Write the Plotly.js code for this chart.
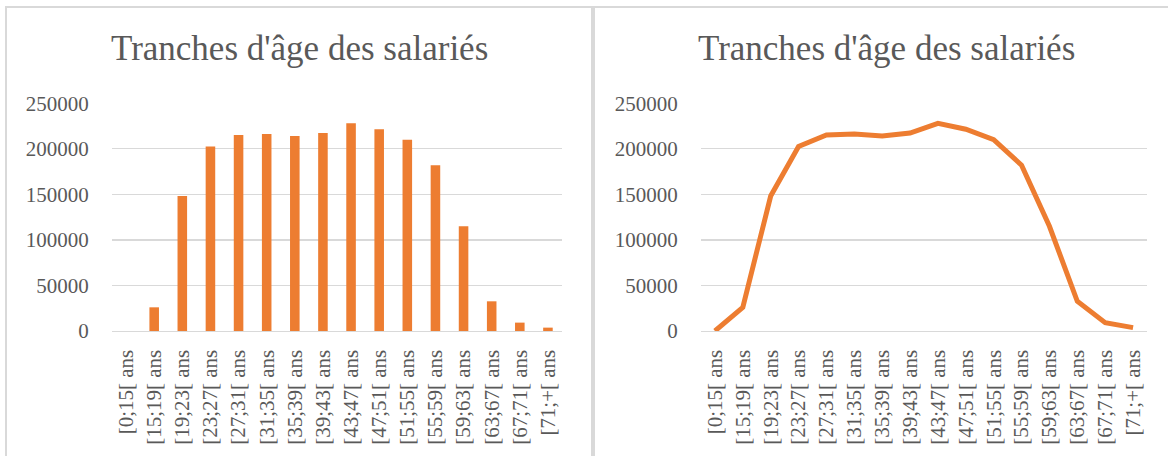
<!DOCTYPE html>
<html>
<head>
<meta charset="utf-8">
<script src="https://cdn.plot.ly/plotly-3.0.1.min.js"></script>
<style>
html,body{margin:0;padding:0;background:#fff;}
#chart{width:1168px;height:456px;}
</style>
</head>
<body>
<div id="chart"></div>
<script>
const categories = ["[0;15[ ans","[15;19[ ans","[19;23[ ans","[23;27[ ans","[27;31[ ans","[31;35[ ans","[35;39[ ans","[39;43[ ans","[43;47[ ans","[47;51[ ans","[51;55[ ans","[55;59[ ans","[59;63[ ans","[63;67[ ans","[67;71[ ans","[71;+[ ans"];
const salaries = [0, 26000, 148200, 202500, 215200, 216300, 214100, 217400, 228000, 221500, 210100, 182000, 115000, 32600, 9200, 3700];
const yTicks = [0, 50000, 100000, 150000, 200000, 250000];
const titleText = "Tranches d'âge des salariés";

const W = 1168, H = 456;
const px = v => v / W;
const py = v => 1 - v / H;
const FONT = "Liberation Serif, Times New Roman, serif";
const GRAY = "#595959";
const ORANGE = "#ED7D31";
const GRID = "#D9D9D9";

const yAxisBase = {
  range: [0, 250000],
  tickvals: yTicks,
  ticktext: yTicks.map(String),
  showgrid: true, gridcolor: GRID, gridwidth: 1.3,
  zeroline: false, showline: false,
  ticks: "outside", ticklen: 18, tickcolor: "rgba(0,0,0,0)",
  tickfont: {family: FONT, size: 21, color: GRAY},
  domain: [py(331), py(103.3)],
  fixedrange: true
};
const xAxisBase = {
  type: "category",
  range: [-0.5, categories.length - 0.5],
  showgrid: false, zeroline: false,
  showline: true, linecolor: GRID, linewidth: 1.3,
  ticks: "outside", ticklen: 9, tickcolor: "rgba(0,0,0,0)",
  tickangle: -90,
  tickfont: {family: FONT, size: 21, color: GRAY},
  fixedrange: true
};

const data = [
  {type: "bar", x: categories, y: salaries, xaxis: "x", yaxis: "y",
   marker: {color: ORANGE}, hoverinfo: "x+y"},
  {type: "scatter", mode: "lines", x: categories, y: salaries, xaxis: "x2", yaxis: "y2",
   line: {color: ORANGE, width: 5}, hoverinfo: "x+y"}
];

const layout = {
  width: W, height: H,
  margin: {l: 0, r: 0, t: 0, b: 0},
  paper_bgcolor: "#fff", plot_bgcolor: "rgba(0,0,0,0)",
  showlegend: false,
  bargap: 0.66,
  xaxis: Object.assign({}, xAxisBase, {domain: [px(112), px(562)], anchor: "y"}),
  yaxis: Object.assign({}, yAxisBase, {anchor: "x"}),
  xaxis2: Object.assign({}, xAxisBase, {domain: [px(701), px(1147)], anchor: "y2"}),
  yaxis2: Object.assign({}, yAxisBase, {anchor: "x2"}),
  annotations: [
    {text: titleText, xref: "paper", yref: "paper", x: px(299), y: py(48), xanchor: "center", yanchor: "middle",
     showarrow: false, font: {family: FONT, size: 35, color: GRAY}},
    {text: titleText, xref: "paper", yref: "paper", x: px(886), y: py(48), xanchor: "center", yanchor: "middle",
     showarrow: false, font: {family: FONT, size: 35, color: GRAY}}
  ],
  shapes: [
    {type: "rect", xref: "paper", yref: "paper", x0: px(6), x1: px(592), y0: py(470), y1: py(7),
     line: {color: GRID, width: 2}, fillcolor: "rgba(0,0,0,0)", layer: "below"},
    {type: "rect", xref: "paper", yref: "paper", x0: px(594), x1: px(1180), y0: py(470), y1: py(7),
     line: {color: GRID, width: 2}, fillcolor: "rgba(0,0,0,0)", layer: "below"}
  ]
};

Plotly.newPlot("chart", data, layout, {staticPlot: true, displayModeBar: false});
</script>
</body>
</html>
